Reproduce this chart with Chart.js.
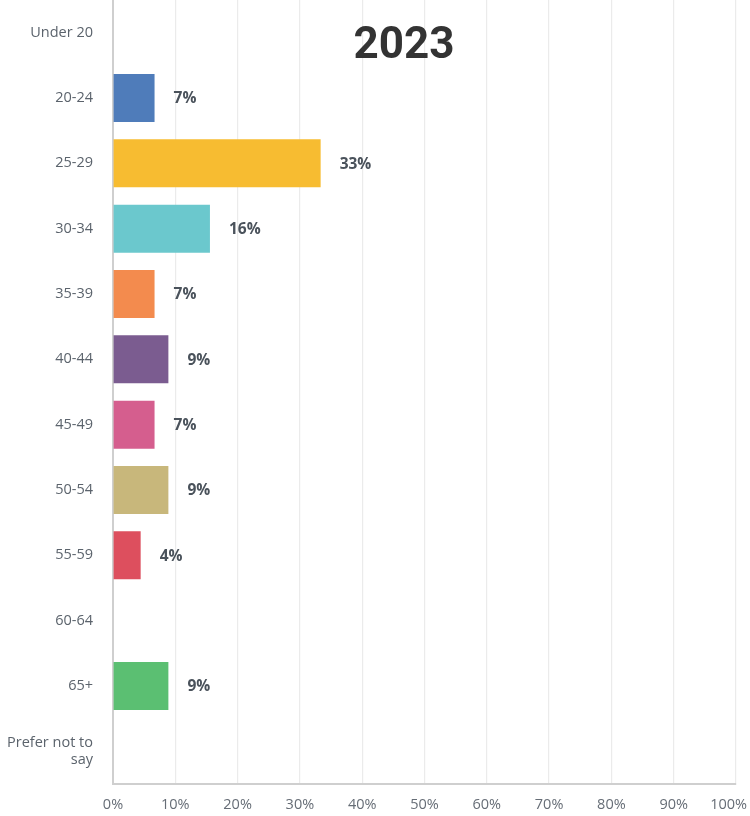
<!DOCTYPE html>
<html>
<head>
<meta charset="utf-8">
<script src="https://cdn.jsdelivr.net/npm/chart.js@4/dist/chart.umd.min.js"></script>
<style>
  html, body { margin: 0; padding: 0; background: #ffffff; }
  #wrap { position: relative; width: 750px; height: 816px; }
  #title { position: absolute; left: 304px; width: 200px; top: 15px; text-align: center;
           font-family: Roboto, "Open Sans", sans-serif; font-weight: 700; font-size: 44px;
           color: #333333; line-height: 56px; pointer-events: none; }
</style>
</head>
<body>
<div id="wrap">
  <canvas id="c" width="750" height="816"></canvas>
  <div id="title">2023</div>
</div>
<script>
const categories = ["Under 20", "20-24", "25-29", "30-34", "35-39", "40-44", "45-49", "50-54", "55-59", "60-64", "65+", ["Prefer not to", "say"]];
const percentValues = [0, 6.67, 33.33, 15.56, 6.67, 8.89, 6.67, 8.89, 4.44, 0, 8.89, 0];
const barColors = ["#4f7cba", "#4f7cba", "#f7bc31", "#6bc8cd", "#f38b4e", "#7b5c90", "#d55e8e", "#c8b77b", "#dd4f5e", "#5bbf72", "#5bbf72", "#5bbf72"];
const xTicks = [0, 10, 20, 30, 40, 50, 60, 70, 80, 90, 100];

const valueLabels = {
  id: 'valueLabels',
  beforeDraw(chart) {
    // keep the last x tick label ("100%") inside the canvas, like the reference
    const items = chart.scales.x.getLabelItems();
    if (items.length) {
      const last = items[items.length - 1];
      last.options.textAlign = 'right';
      last.options.translation[0] = chart.width - 3;
    }
  },
  afterDatasetsDraw(chart) {
    const ctx = chart.ctx;
    const meta = chart.getDatasetMeta(0);
    ctx.save();
    ctx.font = '700 15.5px "Open Sans", sans-serif';
    ctx.fillStyle = '#4a525b';
    ctx.textAlign = 'left';
    ctx.textBaseline = 'middle';
    meta.data.forEach((bar, i) => {
      const v = percentValues[i];
      if (v > 0) ctx.fillText(Math.round(v) + '%', bar.x + 19, bar.y + 1);
    });
    ctx.restore();
  }
};

new Chart(document.getElementById('c'), {
  type: 'bar',
  data: {
    labels: categories,
    datasets: [{
      data: percentValues,
      backgroundColor: barColors,
      borderWidth: 0,
      barPercentage: 0.735,
      categoryPercentage: 1.0
    }]
  },
  options: {
    indexAxis: 'y',
    responsive: false,
    animation: false,
    layout: { padding: { top: 0, right: 14, left: 0, bottom: 0 } },
    plugins: { legend: { display: false }, tooltip: { enabled: false }, title: { display: false } },
    scales: {
      x: {
        min: 0, max: 100,
        afterBuildTicks(scale) { scale.ticks = xTicks.map(v => ({ value: v })); },
        ticks: {
          callback: v => v + '%',
          font: { family: '"Open Sans", sans-serif', size: 14.5 },
          color: '#666d76',
          padding: 12,
          maxRotation: 0
        },
        grid: { color: '#ebebeb', lineWidth: 1.2, drawTicks: false },
        border: { display: true, color: '#cfcfcf', width: 2 },
        afterFit(scale) { scale.height = 32; scale.paddingLeft = 0; scale.paddingRight = 0; }
      },
      y: {
        ticks: {
          font: { family: '"Open Sans", sans-serif', size: 14.5 },
          color: '#5b636c',
          padding: 20,
          autoSkip: false
        },
        grid: { display: false, drawTicks: false },
        border: { display: true, color: '#cfcfcf', width: 2 },
        afterFit(scale) { scale.width = 113; scale.paddingTop = 0; scale.paddingBottom = 0; }
      }
    }
  },
  plugins: [valueLabels]
});
</script>
</body>
</html>
